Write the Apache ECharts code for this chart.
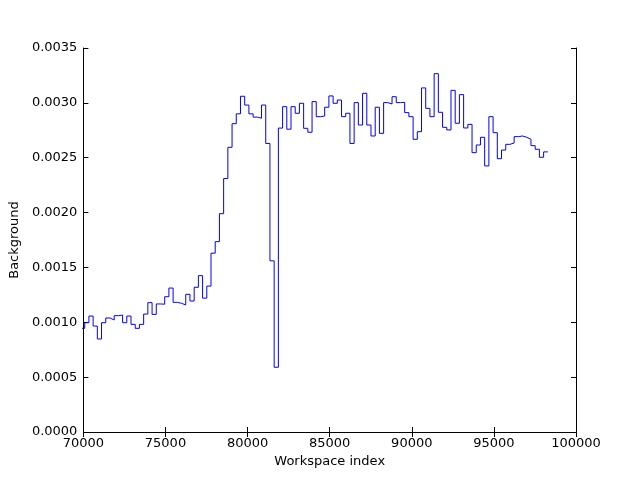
<!DOCTYPE html>
<html>
<head>
<meta charset="utf-8">
<script src="https://cdn.jsdelivr.net/npm/echarts@6/dist/echarts.min.js"></script>
<style>
html,body{margin:0;padding:0;background:#fff;}
#chart{width:640px;height:480px;}
</style>
</head>
<body>
<div id="chart"></div>
<script>
// Background values per bin, first bin is partly left of 70000
const background = [
  0.000945,
  0.000996, 0.001057, 0.000966, 0.000848, 0.000996, 0.001039, 0.001021, 0.001060, 0.001066, 0.000996,
  0.001057, 0.000981, 0.000945, 0.000981, 0.001075, 0.001179, 0.001072, 0.001167, 0.001165, 0.001233,
  0.001312, 0.001182, 0.001173, 0.001158, 0.001255, 0.001194, 0.001319, 0.001425, 0.001220, 0.001330,
  0.001630, 0.001735, 0.001990, 0.002310, 0.002595, 0.002810, 0.002900, 0.003060, 0.002980, 0.002900,
  0.002870, 0.002860, 0.002980, 0.002630, 0.001560, 0.000590, 0.002770, 0.002965, 0.002760, 0.002965,
  0.002905, 0.002996, 0.002768, 0.002732, 0.003011, 0.002874, 0.002880, 0.002960, 0.003063, 0.002996,
  0.003026, 0.002874, 0.002905, 0.002630, 0.003002, 0.002798, 0.003087, 0.002798, 0.002698, 0.002960,
  0.002722, 0.003002, 0.002990, 0.003056, 0.003002, 0.003005, 0.002911, 0.002874, 0.002668, 0.002737,
  0.003136, 0.002950, 0.002874, 0.003266, 0.002914, 0.002777, 0.002753, 0.003114, 0.002814, 0.003075,
  0.002771, 0.002804, 0.002546, 0.002616, 0.002686, 0.002425, 0.002874, 0.002728, 0.002491, 0.002570,
  0.002622, 0.002634, 0.002692, 0.002698, 0.002686, 0.002668, 0.002610, 0.002577, 0.002504, 0.002553
];
// bin geometry (workspace index): first full bin starts here, uniform width
const firstEdge = 70080;
const binWidth = 256.4;
const xTicks = [70000, 75000, 80000, 85000, 90000, 95000, 100000];
const yTicks = [0, 0.0005, 0.001, 0.0015, 0.002, 0.0025, 0.003, 0.0035];

// build step points: each bin's left edge, plus the final right edge
const pts = background.map((v, i) => [firstEdge + (i - 1) * binWidth, v]);
pts.push([firstEdge + (background.length - 1) * binWidth, background[background.length - 1]]);

const font = 'DejaVu Sans';
const fs = 13;
const tickStyle = {show: true, inside: true, length: 5, lineStyle: {color: '#000', width: 1}};
const lineStyle = {show: true, lineStyle: {color: '#000', width: 1}};

const chart = echarts.init(document.getElementById('chart'), null, {renderer: 'canvas'});
chart.setOption({
  animation: false,
  backgroundColor: '#fff',
  grid: {left: 80, right: 64, top: 48, bottom: 48, containLabel: false},
  xAxis: [{
    type: 'value', min: xTicks[0], max: xTicks[xTicks.length - 1], interval: 5000,
    name: 'Workspace index', nameLocation: 'middle', nameGap: 23,
    nameTextStyle: {color: '#000', fontFamily: font, fontSize: fs},
    axisLine: lineStyle, axisTick: tickStyle, splitLine: {show: false},
    axisLabel: {color: '#000', fontFamily: font, fontSize: fs, margin: 5,
      formatter: v => String(v)}
  }, {
    type: 'value', position: 'top', min: xTicks[0], max: xTicks[xTicks.length - 1], interval: 5000,
    axisLine: lineStyle, axisTick: tickStyle, splitLine: {show: false}, axisLabel: {show: false}
  }],
  yAxis: [{
    type: 'value', min: yTicks[0], max: yTicks[yTicks.length - 1], interval: 0.0005,
    name: 'Background', nameLocation: 'middle', nameGap: 50,
    nameTextStyle: {color: '#000', fontFamily: font, fontSize: fs},
    axisLine: lineStyle, axisTick: tickStyle, splitLine: {show: false},
    axisLabel: {color: '#000', fontFamily: font, fontSize: fs, margin: 6,
      formatter: v => v.toFixed(4)}
  }, {
    type: 'value', position: 'right', min: yTicks[0], max: yTicks[yTicks.length - 1], interval: 0.0005,
    axisLine: lineStyle, axisTick: tickStyle, splitLine: {show: false}, axisLabel: {show: false}
  }],
  series: [{
    type: 'line', step: 'end', data: pts, showSymbol: false, symbol: 'none',
    clip: true, lineStyle: {color: '#0000ff', width: 1}, xAxisIndex: 0, yAxisIndex: 0
  }]
});
</script>
</body>
</html>
